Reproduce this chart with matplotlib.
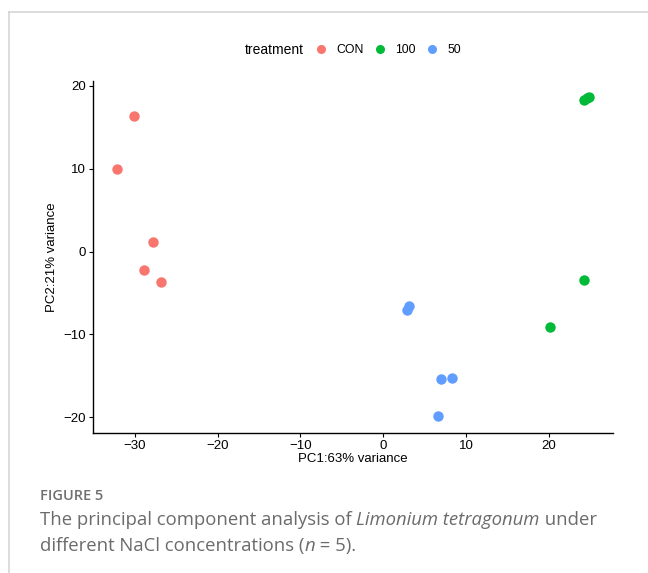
import matplotlib
matplotlib.use("Agg")
import matplotlib.pyplot as plt
from matplotlib.lines import Line2D

plt.rcParams['font.family'] = ['Liberation Sans', 'DejaVu Sans']

# PCA scores
con_x = [-30.1, -32.1, -27.8, -28.9, -26.9]
con_y = [16.4, 10.0, 1.2, -2.2, -3.7]
t100_x = [20.1, 24.2, 24.2, 24.6, 24.8]
t100_y = [-9.1, -3.4, 18.3, 18.6, 18.7]
t50_x = [2.9, 3.1, 7.0, 8.3, 6.6]
t50_y = [-7.1, -6.6, -15.4, -15.3, -19.9]
groups = ["CON", "100", "50"]
colors = ["#F8766D", "#00BA38", "#619CFF"]
x_ticks = [-30, -20, -10, 0, 10, 20]
y_ticks = [-20, -10, 0, 10, 20]

fig = plt.figure(figsize=(6.48, 5.73), dpi=100)
ax = fig.add_axes([0.1435, 0.2443, 0.8025, 0.6143])

series = [(con_x, con_y), (t100_x, t100_y), (t50_x, t50_y)]
for (xs, ys), c in zip(series, colors):
    ax.plot(xs, ys, 'o', color=c, markersize=7.5, markeredgewidth=0)

ax.set_xlim(-35.06, 27.76)
ax.set_ylim(-21.9, 20.6)
ax.set_xticks(x_ticks)
ax.set_yticks(y_ticks)
ax.set_xticklabels([str(t).replace('-', '\u2212') for t in x_ticks])
ax.set_yticklabels([str(t).replace('-', '\u2212') for t in y_ticks])
for s in ['top', 'right']:
    ax.spines[s].set_visible(False)
for s in ['left', 'bottom']:
    ax.spines[s].set_linewidth(1.0)
ax.tick_params(length=3, width=0.8, labelsize=9.5, colors='black', pad=2)
ax.set_xlabel("PC1:63% variance", fontsize=9.5, labelpad=1)
ax.set_ylabel("PC2:21% variance", fontsize=9.5, labelpad=4)

# legend on top
fig.text(245 / 648, 1 - 50 / 573, "treatment", fontsize=10, va='center', ha='left')
handles = [Line2D([], [], marker='o', linestyle='', color=c, markersize=6.5, markeredgewidth=0)
           for c in colors]
fig.legend(handles, groups, loc='center left', bbox_to_anchor=(316 / 648, 1 - 50 / 573),
           ncol=3, frameon=False, fontsize=8.8, handlelength=0.8, handletextpad=0.85,
           columnspacing=0.95, borderaxespad=0, borderpad=0)

# page frame
fig.add_artist(Line2D([9 / 648, 1], [1 - 12 / 573, 1 - 12 / 573], transform=fig.transFigure,
                      color='#d6d6d6', linewidth=1.2))
fig.add_artist(Line2D([9 / 648, 9 / 648], [0, 1 - 12 / 573], transform=fig.transFigure,
                      color='#d6d6d6', linewidth=1.2))

# caption
cap_font = ['Open Sans', 'DejaVu Sans']
cap_color = '#6b6b6b'
fig.text(40 / 648, 1 - 500 / 573, "FIGURE 5", fontsize=10.5, color='#707070',
         family=cap_font, va='baseline', weight='semibold')

renderer = fig.canvas.get_renderer()


def draw_runs(runs, x_px, y_px):
    x = x_px / 648
    for txt, style in runs:
        t = fig.text(x, 1 - y_px / 573, txt, fontsize=13.3, color=cap_color, family=cap_font,
                     style=style, va='baseline')
        bb = t.get_window_extent(renderer=renderer)
        x += bb.width / fig.bbox.width


draw_runs([("The principal component analysis of ", 'normal'),
           ("Limonium tetragonum", 'italic'),
           (" under", 'normal')], 40, 525)
draw_runs([("different NaCl concentrations (", 'normal'),
           ("n", 'italic'),
           (" = 5).", 'normal')], 40, 551)

fig.savefig("out.png", dpi=100)
